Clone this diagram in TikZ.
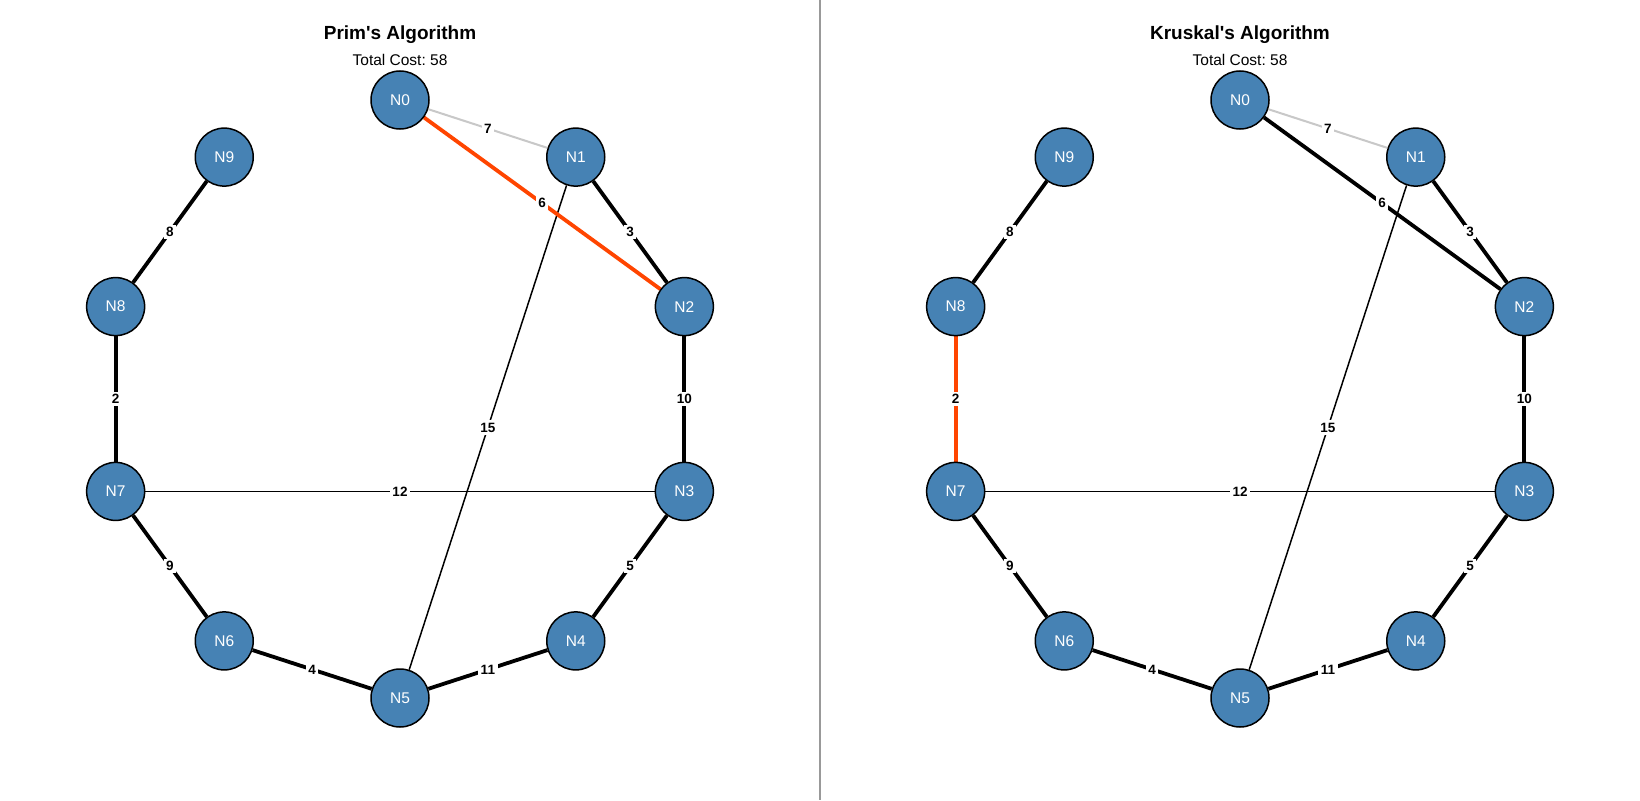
\documentclass[tikz,border=0pt]{standalone}
\usepackage{fontspec}
\setmainfont{Liberation Sans}
\usetikzlibrary{calc,backgrounds}
\definecolor{steel}{HTML}{4682B4}
\definecolor{hilite}{HTML}{FF4500}
\definecolor{skipgray}{HTML}{C8C8C8}
\definecolor{divgray}{HTML}{999999}
\frenchspacing
\tikzset{
  vertex/.style={circle, draw=black, line width=1.5pt, fill=steel, minimum size=58pt,
    inner sep=0pt, text=white, font=\fontsize{15.5}{15.5}\selectfont},
  mst/.style={draw=black, line width=3.8pt},
  newest/.style={draw=hilite, line width=3.8pt},
  cand/.style={draw=black, line width=1.5pt},
  unused/.style={draw=skipgray, line width=2pt},
  elabel/.style={fill=white, inner sep=2.5pt, font=\bfseries\fontsize{13.5}{13.5}\selectfont},
  heading/.style={font=\bfseries\fontsize{19}{19}\selectfont},
  subheading/.style={font=\fontsize{15.5}{15.5}\selectfont},
}
% one weighted edge between two vertex nodes: style, from, to, weight
\newcommand{\graphedge}[4]{\draw[#1] (#2) -- (#3); \path (#2) -- node[elabel] {#4} (#3);}
\begin{document}
\begin{tikzpicture}[x=1pt,y=1pt]
\useasboundingbox (0,0) rectangle (1640,-800);

% vertices on a circle, one ring per panel
\foreach \k in {0,...,9} {
  \node[vertex] (p\k) at ($(400,-399)+({90-36*\k}:299)$) {N\k};
  \node[vertex] (k\k) at ($(1240,-399)+({90-36*\k}:299)$) {N\k};
}

\begin{scope}[on background layer]
\fill[white] (0,0) rectangle (1640,-800);
% divider between the two panels
\draw[divgray, line width=2pt] (820,0) -- (820,-800);

% ---- Prim's panel edges ----
\graphedge{unused}{p0}{p1}{7}
\graphedge{cand}{p1}{p5}{15}
\graphedge{cand}{p7}{p3}{12}
\graphedge{newest}{p0}{p2}{6}
\graphedge{mst}{p1}{p2}{3}
\graphedge{mst}{p2}{p3}{10}
\graphedge{mst}{p3}{p4}{5}
\graphedge{mst}{p4}{p5}{11}
\graphedge{mst}{p5}{p6}{4}
\graphedge{mst}{p6}{p7}{9}
\graphedge{mst}{p7}{p8}{2}
\graphedge{mst}{p8}{p9}{8}

% ---- Kruskal's panel edges ----
\graphedge{unused}{k0}{k1}{7}
\graphedge{cand}{k1}{k5}{15}
\graphedge{cand}{k7}{k3}{12}
\graphedge{mst}{k0}{k2}{6}
\graphedge{mst}{k1}{k2}{3}
\graphedge{mst}{k2}{k3}{10}
\graphedge{mst}{k3}{k4}{5}
\graphedge{mst}{k4}{k5}{11}
\graphedge{mst}{k5}{k6}{4}
\graphedge{mst}{k6}{k7}{9}
\graphedge{newest}{k7}{k8}{2}
\graphedge{mst}{k8}{k9}{8}
\end{scope}

\node[heading] (ptitle) at (400,-34.5) {Prim\textquotesingle s Algorithm};
\node[subheading] (pcost) at (400,-59.5) {Total Cost: 58};
\node[heading] (ktitle) at (1240,-34.5) {Kruskal\textquotesingle s Algorithm};
\node[subheading] (kcost) at (1240,-59.5) {Total Cost: 58};
\end{tikzpicture}
\end{document}
